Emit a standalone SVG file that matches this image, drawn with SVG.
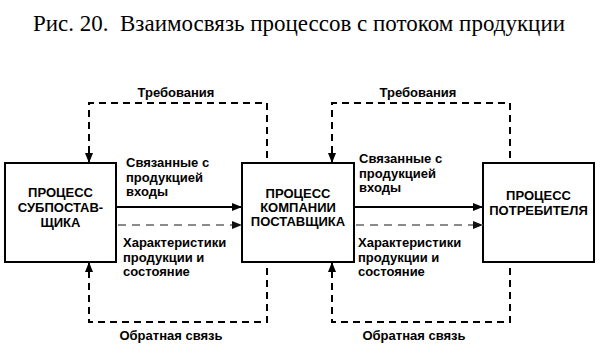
<svg xmlns="http://www.w3.org/2000/svg" width="600" height="362" viewBox="0 0 600 362">
<defs>
<marker id="ah" viewBox="0 0 10 8" refX="10" refY="4" markerWidth="10" markerHeight="8" markerUnits="userSpaceOnUse" orient="auto">
<path d="M0,0 L10,4 L0,8 Z" fill="#000"/>
</marker>
<marker id="ahg" viewBox="0 0 10 8" refX="10" refY="4" markerWidth="10" markerHeight="8" markerUnits="userSpaceOnUse" orient="auto">
<path d="M0,0 L10,4 L0,8 Z" fill="#111"/>
</marker>
</defs>
<style>
.box{fill:#fff;stroke:#000;stroke-width:2}
.t{font-family:"Liberation Sans",Arial,sans-serif;font-weight:bold;font-size:13px;fill:#000}
.c{text-anchor:middle}
.title{font-family:"Liberation Serif","Times New Roman",serif;font-size:22.5px;fill:#000}
.solid{fill:none;stroke:#000;stroke-width:2}
.dash{fill:none;stroke:#000;stroke-width:2;stroke-dasharray:7,5}
.gdash{fill:none;stroke:#666;stroke-width:1.5;stroke-dasharray:8,6}
</style>
<rect width="600" height="362" fill="#fff"/>
<text class="title" x="33" y="31" textLength="532" lengthAdjust="spacingAndGlyphs" xml:space="preserve">Рис. 20.  Взаимосвязь процессов с потоком продукции</text>
<g id="node-subsupplier">
<rect class="box" x="5" y="163" width="111" height="99"/>
<text class="t c" x="60.5" y="197">ПРОЦЕСС</text>
<text class="t c" x="60.5" y="212">СУБПОСТАВ-</text>
<text class="t c" x="60.5" y="227">ЩИКА</text>
</g>
<g id="node-supplier">
<rect class="box" x="242" y="163" width="112" height="99"/>
<text class="t c" x="298" y="198">ПРОЦЕСС</text>
<text class="t c" x="298" y="212">КОМПАНИИ</text>
<text class="t c" x="298" y="226">ПОСТАВЩИКА</text>
</g>
<g id="node-consumer">
<rect class="box" x="483" y="163" width="111" height="99"/>
<text class="t c" x="538.5" y="200">ПРОЦЕСС</text>
<text class="t c" x="538.5" y="215">ПОТРЕБИТЕЛЯ</text>
</g>
<g id="connectors">
<line class="solid" x1="116" y1="207" x2="242" y2="207" marker-end="url(#ah)"/>
<line class="gdash" x1="118" y1="225" x2="242" y2="225" marker-end="url(#ahg)"/>
<line class="solid" x1="354" y1="207" x2="483" y2="207" marker-end="url(#ah)"/>
<line class="gdash" x1="356" y1="225" x2="483" y2="225" marker-end="url(#ahg)"/>
<path class="dash" d="M267,158 L267,103 L89,103 L89,163" marker-end="url(#ah)"/>
<path class="dash" d="M510,158 L510,103 L332,103 L332,163" marker-end="url(#ah)"/>
<path class="dash" d="M267,268 L267,322 L89,322 L89,262" marker-end="url(#ah)"/>
<path class="dash" d="M510,268 L510,322 L332,322 L332,262" marker-end="url(#ah)"/>
</g>
<g id="labels">
<text class="t c" x="176" y="97">Требования</text>
<text class="t c" x="418" y="97">Требования</text>
<text class="t" x="126" y="167">Связанные с</text>
<text class="t" x="126" y="182">продукцией</text>
<text class="t" x="126" y="196">входы</text>
<text class="t" x="359" y="163">Связанные с</text>
<text class="t" x="359" y="178">продукцией</text>
<text class="t" x="359" y="192">входы</text>
<text class="t" x="123" y="247">Характеристики</text>
<text class="t" x="123" y="262">продукции и</text>
<text class="t" x="123" y="276">состояние</text>
<text class="t" x="358" y="247">Характеристики</text>
<text class="t" x="358" y="262">продукции и</text>
<text class="t" x="358" y="276">состояние</text>
<text class="t c" x="171" y="340">Обратная связь</text>
<text class="t c" x="414" y="340">Обратная связь</text>
</g>
</svg>
